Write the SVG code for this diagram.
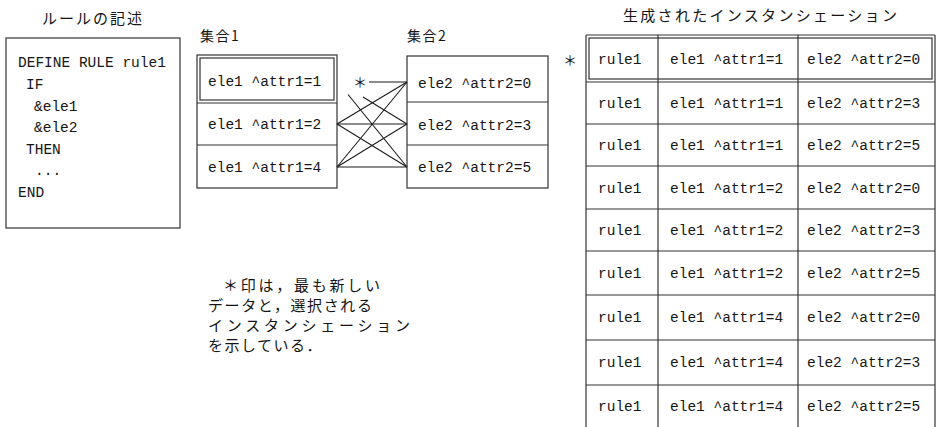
<svg xmlns="http://www.w3.org/2000/svg" width="939" height="427" viewBox="0 0 939 427">
<style>
.t{font-family:"Liberation Mono",monospace;font-size:14.5px;fill:#151515}
.j{font-family:"Noto Sans CJK JP",sans-serif;fill:#151515}
.n{font-family:"Noto Sans CJK JP",sans-serif;font-size:15px;fill:#151515}
.b{fill:none;stroke:#333;stroke-width:1.2}
.c{stroke:#1a1a1a;stroke-width:1.1;fill:none}
</style>
<rect width="939" height="427" fill="#fff"/>
<text class="j" x="42" y="24" font-size="15" letter-spacing="2">ルールの記述</text>
<g id="rule">
<rect class="b" x="6" y="38" width="174" height="190"/>
<text class="t" x="18" y="67">DEFINE RULE rule1</text>
<text class="t" x="26" y="89">IF</text>
<text class="t" x="34" y="111">&amp;ele1</text>
<text class="t" x="34" y="132">&amp;ele2</text>
<text class="t" x="26" y="154">THEN</text>
<text class="t" x="35" y="175">...</text>
<text class="t" x="18" y="197">END</text>
</g>
<text class="j" x="200" y="41" font-size="14" letter-spacing="1.5">集合1</text>
<text class="j" x="407" y="41" font-size="14" letter-spacing="1.5">集合2</text>
<g id="set1">
<rect class="b" x="197" y="55" width="140" height="133"/>
<rect class="b" x="200" y="58" width="134" height="42"/>
<line class="b" x1="197" y1="103" x2="337" y2="103"/>
<line class="b" x1="197" y1="145" x2="337" y2="145"/>
<text class="t" x="208" y="86">ele1 ^attr1=1</text>
<text class="t" x="208" y="129">ele1 ^attr1=2</text>
<text class="t" x="208" y="172">ele1 ^attr1=4</text>
</g>
<g id="set2">
<rect class="b" x="407" y="56" width="141" height="132"/>
<line class="b" x1="407" y1="102" x2="548" y2="102"/>
<line class="b" x1="407" y1="145" x2="548" y2="145"/>
<text class="t" x="418" y="88">ele2 ^attr2=0</text>
<text class="t" x="418" y="130">ele2 ^attr2=3</text>
<text class="t" x="418" y="172">ele2 ^attr2=5</text>
</g>
<g id="connectors">
<text class="j" x="353" y="87" font-size="14">＊</text>
<line class="c" x1="369" y1="82" x2="407" y2="82"/>
<line class="c" x1="363" y1="97" x2="407" y2="124"/>
<line class="c" x1="348" y1="94.5" x2="407" y2="167"/>
<line class="c" x1="337" y1="124" x2="407" y2="82"/>
<line class="c" x1="337" y1="124" x2="407" y2="124"/>
<line class="c" x1="337" y1="124" x2="407" y2="167"/>
<line class="c" x1="337" y1="167" x2="407" y2="82"/>
<line class="c" x1="337" y1="167" x2="407" y2="124"/>
<line class="c" x1="337" y1="167" x2="407" y2="167"/>
</g>
<g id="note">
<text class="n" x="223" y="291" textLength="157" lengthAdjust="spacing">＊印は，最も新しい</text>
<text class="n" x="208" y="311" textLength="164" lengthAdjust="spacing">データと，選択される</text>
<text class="n" x="208" y="331" textLength="202" lengthAdjust="spacing">インスタンシェーション</text>
<text class="n" x="208" y="351" letter-spacing="1.5">を示している．</text>
</g>
<text class="j" x="623" y="21" font-size="15" letter-spacing="2.3">生成されたインスタンシェーション</text>
<text class="j" x="563" y="65" font-size="14">＊</text>
<g id="table">
<line class="b" x1="586" y1="35" x2="935" y2="35"/>
<line class="b" x1="586" y1="35" x2="586" y2="427"/>
<line class="b" x1="658" y1="35" x2="658" y2="427"/>
<line class="b" x1="798" y1="35" x2="798" y2="427"/>
<line class="b" x1="935" y1="35" x2="935" y2="427"/>
<rect class="b" x="589" y="38" width="343" height="41"/>
<line class="b" x1="586" y1="82" x2="935" y2="82"/>
<line class="b" x1="586" y1="124" x2="935" y2="124"/>
<line class="b" x1="586" y1="166" x2="935" y2="166"/>
<line class="b" x1="586" y1="209" x2="935" y2="209"/>
<line class="b" x1="586" y1="251" x2="935" y2="251"/>
<line class="b" x1="586" y1="295" x2="935" y2="295"/>
<line class="b" x1="586" y1="340" x2="935" y2="340"/>
<line class="b" x1="586" y1="385" x2="935" y2="385"/>
</g>
<g id="rows">
<text class="t" x="598" y="64">rule1</text><text class="t" x="670" y="64">ele1 ^attr1=1</text><text class="t" x="807" y="64">ele2 ^attr2=0</text>
<text class="t" x="598" y="108">rule1</text><text class="t" x="670" y="108">ele1 ^attr1=1</text><text class="t" x="807" y="108">ele2 ^attr2=3</text>
<text class="t" x="598" y="150">rule1</text><text class="t" x="670" y="150">ele1 ^attr1=1</text><text class="t" x="807" y="150">ele2 ^attr2=5</text>
<text class="t" x="598" y="193">rule1</text><text class="t" x="670" y="193">ele1 ^attr1=2</text><text class="t" x="807" y="193">ele2 ^attr2=0</text>
<text class="t" x="598" y="235">rule1</text><text class="t" x="670" y="235">ele1 ^attr1=2</text><text class="t" x="807" y="235">ele2 ^attr2=3</text>
<text class="t" x="598" y="278">rule1</text><text class="t" x="670" y="278">ele1 ^attr1=2</text><text class="t" x="807" y="278">ele2 ^attr2=5</text>
<text class="t" x="598" y="322">rule1</text><text class="t" x="670" y="322">ele1 ^attr1=4</text><text class="t" x="807" y="322">ele2 ^attr2=0</text>
<text class="t" x="598" y="367">rule1</text><text class="t" x="670" y="367">ele1 ^attr1=4</text><text class="t" x="807" y="367">ele2 ^attr2=3</text>
<text class="t" x="598" y="411">rule1</text><text class="t" x="670" y="411">ele1 ^attr1=4</text><text class="t" x="807" y="411">ele2 ^attr2=5</text>
</g>
</svg>
